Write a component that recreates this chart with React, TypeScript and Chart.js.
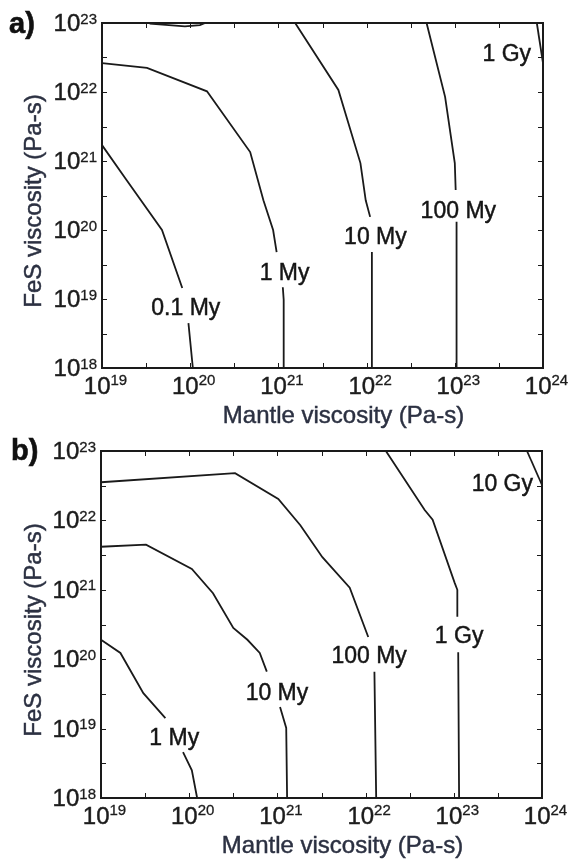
import React, { useEffect, useRef } from "react";
import { Chart, registerables } from "chart.js";
Chart.register(...registerables);

const FONT = '"Liberation Sans", Arial, Helvetica, sans-serif';

// Axis ticks (log10 of viscosity, Pa-s)
const X_DECADES = [19, 20, 21, 22, 23, 24];
const Y_DECADES = [18, 19, 20, 21, 22, 23];
const X_TITLE = "Mantle viscosity (Pa-s)";
const Y_TITLE = "FeS viscosity (Pa-s)";

// ---- Panel a) contours: log10 mantle viscosity (x), log10 FeS viscosity (y); null = gap for label
const A_01MY_X = [19.0, 19.28, 19.68, 19.91, null, 19.98, 20.03];
const A_01MY_Y = [21.23, 20.72, 20.0, 19.16, null, 18.65, 18.0];
const A_1MY_X = [19.0, 19.51, 20.19, 20.68, 20.83, 20.94, 20.98, null, 21.05, 21.06, 21.06];
const A_1MY_Y = [22.42, 22.35, 22.01, 21.13, 20.43, 20.0, 19.68, null, 19.17, 18.99, 18.0];
const A_10MY_X = [21.19, 21.68, 21.93, 21.99, 22.04, null, 22.06, 22.06];
const A_10MY_Y = [23.0, 22.03, 20.97, 20.43, 20.19, null, 19.68, 18.0];
const A_100MY_X = [22.68, 22.89, 23.0, 23.01, null, 23.02, 23.02];
const A_100MY_Y = [23.0, 21.93, 20.97, 20.58, null, 20.12, 18.0];
const A_1GY_X = [23.93, 24.0];
const A_1GY_Y = [23.0, 22.42];
const A_TOP_X = [19.54, 19.94, 20.11, 20.17];
const A_TOP_Y = [22.99, 22.95, 22.97, 23.0];
const A_LABELS = ["0.1 My", "1 My", "10 My", "100 My", "1 Gy"];
const A_LABEL_X = [19.95, 21.07, 22.1, 23.04, 23.59];
const A_LABEL_Y = [18.88, 19.39, 19.91, 20.29, 22.57];

// ---- Panel b) contours
const B_1MY_X = [19.0, 19.22, 19.48, 19.73, null, 19.93, 20.03, 20.09];
const B_1MY_Y = [20.28, 20.09, 19.51, 19.15, null, 18.66, 18.4, 18.0];
const B_10MY_X = [19.0, 19.51, 20.03, 20.27, 20.5, 20.66, 20.8, 20.88, null, 21.03, 21.1, 21.11];
const B_10MY_Y = [21.62, 21.65, 21.3, 20.95, 20.45, 20.28, 20.09, 19.82, null, 19.31, 19.01, 18.0];
const B_100MY_X = [19.0, 20.52, 21.01, 21.26, 21.51, 21.82, 22.03, null, 22.1, 22.12];
const B_100MY_Y = [22.55, 22.68, 22.31, 21.93, 21.47, 21.03, 20.32, null, 19.82, 18.0];
const B_1GY_X = [22.23, 22.67, 22.76, 23.01, 23.04, 23.04, null, 23.05, 23.06];
const B_1GY_Y = [23.0, 22.15, 22.01, 21.1, 21.0, 20.61, null, 20.1, 18.0];
const B_10GY_X = [23.83, 24.0];
const B_10GY_Y = [23.0, 22.51];
const B_LABELS = ["1 My", "10 My", "100 My", "1 Gy", "10 Gy"];
const B_LABEL_X = [19.83, 20.995, 22.04, 23.06, 23.55];
const B_LABEL_Y = [18.88, 19.53, 20.06, 20.35, 22.54];

const LINE_COLOR = "#1a1a1a";
const TITLE_COLOR = "#2c3142";
const TICK_COLOR = "#1c1c1c";

function toPoints(xs: (number | null)[], ys: (number | null)[]) {
  const pts: { x: number; y: number | null }[] = [];
  let lastX = 19;
  xs.forEach((x, i) => {
    const y = ys[i];
    if (x === null || y === null) {
      pts.push({ x: Math.pow(10, lastX), y: null });
    } else {
      lastX = x;
      pts.push({ x: Math.pow(10, x), y: Math.pow(10, y) });
    }
  });
  return pts;
}

type PanelSpec = {
  letter: string;
  letterX: number;
  letterY: number;
  height: number;
  padding: { left: number; top: number; right: number; bottom: number };
  series: [(number | null)[], (number | null)[]][];
  labels: string[];
  labelX: number[];
  labelY: number[];
};

const PANEL_A: PanelSpec = {
  letter: "a)",
  letterX: 9,
  letterY: 33,
  height: 430,
  padding: { left: 102, top: 23, right: 28, bottom: 62 },
  series: [
    [A_01MY_X, A_01MY_Y],
    [A_1MY_X, A_1MY_Y],
    [A_10MY_X, A_10MY_Y],
    [A_100MY_X, A_100MY_Y],
    [A_1GY_X, A_1GY_Y],
    [A_TOP_X, A_TOP_Y],
  ],
  labels: A_LABELS,
  labelX: A_LABEL_X,
  labelY: A_LABEL_Y,
};

const PANEL_B: PanelSpec = {
  letter: "b)",
  letterX: 11,
  letterY: 30,
  height: 431,
  padding: { left: 101, top: 21, right: 29, bottom: 63 },
  series: [
    [B_1MY_X, B_1MY_Y],
    [B_10MY_X, B_10MY_Y],
    [B_100MY_X, B_100MY_Y],
    [B_1GY_X, B_1GY_Y],
    [B_10GY_X, B_10GY_Y],
  ],
  labels: B_LABELS,
  labelX: B_LABEL_X,
  labelY: B_LABEL_Y,
};

function heavyText(ctx: CanvasRenderingContext2D, t: string, x: number, y: number, w = 0.45) {
  ctx.fillText(t, x, y);
  ctx.lineWidth = w;
  ctx.strokeStyle = ctx.fillStyle as string;
  ctx.strokeText(t, x, y);
}

function makePlugin(spec: PanelSpec) {
  return {
    id: "decor",
    afterDraw(chart: any) {
      const ctx: CanvasRenderingContext2D = chart.ctx;
      const a = chart.chartArea;
      const xs = chart.scales.x;
      const ys = chart.scales.y;
      ctx.save();
      // frame
      ctx.strokeStyle = LINE_COLOR;
      ctx.lineWidth = 2;
      ctx.strokeRect(a.left, a.top, a.right - a.left, a.bottom - a.top);
      // ticks
      ctx.lineWidth = 1;
      const TL = 5;
      for (let e = X_DECADES[0]; e <= X_DECADES[X_DECADES.length - 1] + 1e-9; e += 0.5) {
        const px = Math.round(xs.getPixelForValue(Math.pow(10, e))) + 0.5;
        ctx.beginPath();
        ctx.moveTo(px, a.bottom);
        ctx.lineTo(px, a.bottom - TL);
        ctx.moveTo(px, a.top);
        ctx.lineTo(px, a.top + TL);
        ctx.stroke();
      }
      for (let e = Y_DECADES[0]; e <= Y_DECADES[Y_DECADES.length - 1] + 1e-9; e += 0.5) {
        const py = Math.round(ys.getPixelForValue(Math.pow(10, e))) + 0.5;
        ctx.beginPath();
        ctx.moveTo(a.left, py);
        ctx.lineTo(a.left + TL, py);
        ctx.moveTo(a.right, py);
        ctx.lineTo(a.right - TL, py);
        ctx.stroke();
      }
      // tick labels
      const bigFont = `24px ${FONT}`;
      const supFont = `15px ${FONT}`;
      ctx.fillStyle = TICK_COLOR;
      ctx.textBaseline = "alphabetic";
      ctx.textAlign = "left";
      X_DECADES.forEach((e) => {
        const px = xs.getPixelForValue(Math.pow(10, e));
        ctx.font = bigFont;
        const w1 = ctx.measureText("10").width;
        ctx.font = supFont;
        const w2 = ctx.measureText(String(e)).width;
        const left = px + 3.5 - (w1 + w2) / 2;
        ctx.font = bigFont;
        heavyText(ctx, "10", left, a.bottom + 26);
        ctx.font = supFont;
        heavyText(ctx, String(e), left + w1, a.bottom + 17, 0.3);
      });
      Y_DECADES.forEach((e) => {
        const py = ys.getPixelForValue(Math.pow(10, e));
        ctx.font = bigFont;
        const w1 = ctx.measureText("10").width;
        ctx.font = supFont;
        const w2 = ctx.measureText(String(e)).width;
        const right = a.left - 5;
        const left = right - w1 - w2;
        ctx.font = bigFont;
        heavyText(ctx, "10", left, py + 8);
        ctx.font = supFont;
        heavyText(ctx, String(e), left + w1, py + 0.5, 0.3);
      });
      // axis titles
      ctx.fillStyle = TITLE_COLOR;
      ctx.font = `24px ${FONT}`;
      ctx.textAlign = "center";
      heavyText(ctx, X_TITLE, (a.left + a.right) / 2 + 21, a.bottom + 55);
      ctx.save();
      ctx.translate(41, (a.top + a.bottom) / 2 + 5.5);
      ctx.rotate(-Math.PI / 2);
      heavyText(ctx, Y_TITLE, 0, 0);
      ctx.restore();
      // contour labels
      ctx.fillStyle = "#151515";
      ctx.font = `23px ${FONT}`;
      ctx.textAlign = "center";
      spec.labels.forEach((t, i) => {
        const px = xs.getPixelForValue(Math.pow(10, spec.labelX[i]));
        const py = ys.getPixelForValue(Math.pow(10, spec.labelY[i]));
        heavyText(ctx, t, px, py + 8);
      });
      // panel letter
      ctx.fillStyle = "#111";
      ctx.font = `bold 29px ${FONT}`;
      ctx.textAlign = "left";
      heavyText(ctx, spec.letter, spec.letterX, spec.letterY, 0.6);
      ctx.restore();
    },
  };
}

function Panel({ spec, top }: { spec: PanelSpec; top: number }) {
  const ref = useRef<HTMLCanvasElement | null>(null);
  useEffect(() => {
    if (!ref.current) return;
    const chart = new Chart(ref.current, {
      type: "line",
      data: {
        datasets: spec.series.map(([xs, ys]) => ({
          data: toPoints(xs, ys) as any,
          borderColor: LINE_COLOR,
          borderWidth: 1.8,
          pointRadius: 0,
          tension: 0,
          fill: false,
          spanGaps: false,
          clip: false as any,
        })),
      },
      options: {
        animation: false,
        responsive: false,
        maintainAspectRatio: false,
        events: [],
        layout: { padding: spec.padding },
        plugins: {
          legend: { display: false },
          title: { display: false },
          tooltip: { enabled: false },
        },
        scales: {
          x: {
            type: "logarithmic",
            min: 1e19,
            max: 1e24,
            display: false,
          },
          y: {
            type: "logarithmic",
            min: 1e18,
            max: 1e23,
            display: false,
          },
        },
      },
      plugins: [makePlugin(spec)],
    });
    return () => chart.destroy();
  }, [spec]);
  return (
    <canvas
      ref={ref}
      width={571}
      height={spec.height}
      style={{ position: "absolute", left: 0, top, width: 571, height: spec.height, display: "block" }}
    />
  );
}

export default function App() {
  return (
    <div style={{ position: "absolute", left: 0, top: 0, width: 571, height: 861, background: "#fff" }}>
      <Panel spec={PANEL_A} top={0} />
      <Panel spec={PANEL_B} top={430} />
    </div>
  );
}
